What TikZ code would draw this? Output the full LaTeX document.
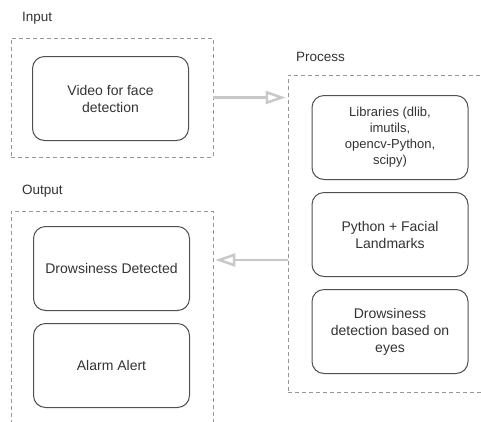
\documentclass[tikz,border=0pt]{standalone}
\usepackage{fontspec}
\setmainfont{Liberation Sans}
\usetikzlibrary{arrows.meta,positioning}
\definecolor{txtgray}{RGB}{51,51,51}
\definecolor{edgegray}{RGB}{80,80,80}
\definecolor{dashgray}{RGB}{150,150,150}
\definecolor{arrgray}{RGB}{200,200,200}

\begin{document}
\begin{tikzpicture}[
  x=1pt, y=-1pt,
  font=\fontsize{14}{17}\selectfont, text=txtgray, node distance=12pt,
  blk/.style={draw=edgegray, line width=1pt, rounded corners=12pt, minimum width=156pt, minimum height=84pt, align=center},
  grp/.style={draw=dashgray, line width=0.6pt, dash pattern=on 4pt off 3pt, inner sep=0pt},
  ttl/.style={anchor=west, inner sep=0pt, font=\fontsize{13.5}{16}\selectfont},
  arr/.style={-{Triangle[open,length=20pt,width=13pt]}, line width=2.5pt, arrgray, shorten >=2pt}
]
  \useasboundingbox (0,0) rectangle (481,421);

  % dashed groups
  \node[grp, minimum width=202pt, minimum height=119pt] (inbox)   at (112,97.5) {};
  \node[grp, minimum width=200pt, minimum height=317pt] (procbox) at (388,233.5) {};
  \node[grp, minimum width=202pt, minimum height=220pt] (outbox)  at (112,321) {};

  \node[ttl] (intl)   at (22,18)  {Input};
  \node[ttl] (proctl) at (296,57) {Process};
  \node[ttl] (outtl)  at (22,191) {Output};

  % input
  \node[blk] (vid) at (110.5,98.5) {Video for face\\detection};

  % process
  \node[blk, font=\fontsize{13}{16}\selectfont] (lib) at (390,137.5) {Libraries (dlib,\\imutils,\\opencv-Python,\\scipy)};
  \node[blk, below=of lib] (py)  {Python + Facial\\Landmarks};
  \node[blk, below=of py]  (eye) {Drowsiness\\detection based on\\eyes};

  % output
  \node[blk] (det) at (111.5,268.5) {Drowsiness Detected};
  \node[blk, below=of det] (alarm) {Alarm Alert};

  \coordinate (back) at (288,260);
  \draw[arr] (inbox.east) -- (inbox.east -| procbox.west);
  \draw[arr] (back) -- (back -| outbox.east);
\end{tikzpicture}
\end{document}
